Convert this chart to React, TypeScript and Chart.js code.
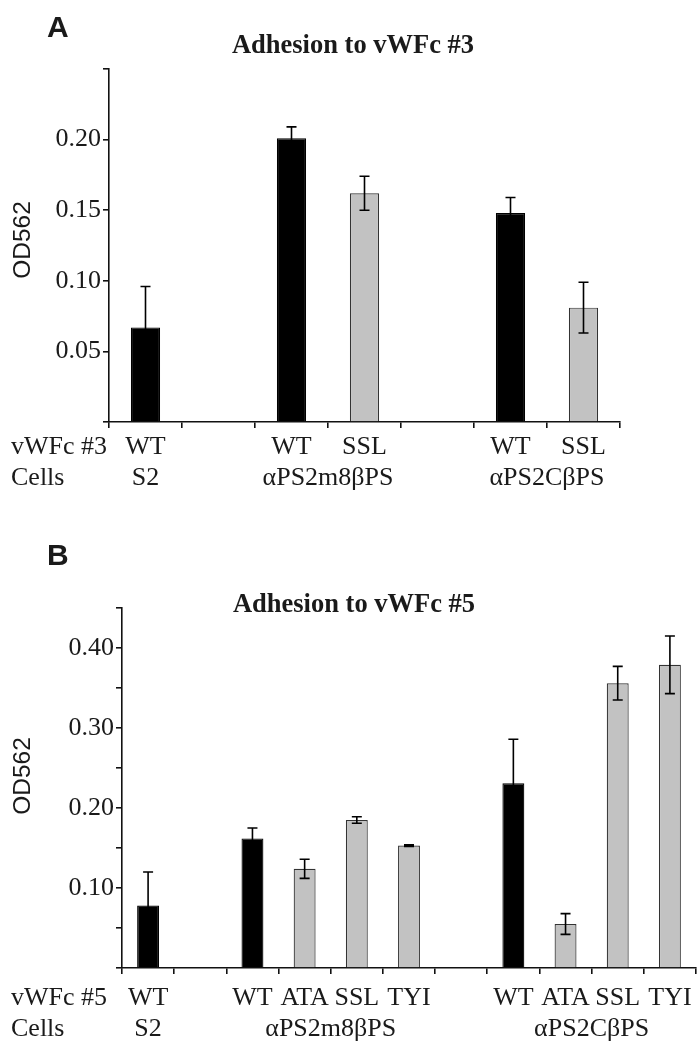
import React, { useEffect, useRef } from 'react';
import { Chart, registerables } from 'chart.js';

Chart.register(...registerables);

const SERIF = "'Liberation Serif', 'Times New Roman', serif";
const SANS = "'Liberation Sans', Arial, sans-serif";
const INK = '#1a1a1a';

// ---------- Panel A data ----------
const A_VARIANTS = ['WT', '', 'WT', 'SSL', '', 'WT', 'SSL'];
const A_MEANS = [0.067, null, 0.201, 0.162, null, 0.148, 0.081];
const A_ERRORS = [0.029, null, 0.008, 0.012, null, 0.011, 0.018];
const A_CELLS = ['S2', 'αPS2m8βPS', 'αPS2CβPS'];
const A_CELL_SPANS = [[0, 0], [2, 3], [5, 6]];
const A_Y_TICKS = [0.05, 0.1, 0.15, 0.2];
const A_Y_LABELS = ['0.05', '0.10', '0.15', '0.20'];

// ---------- Panel B data ----------
const B_VARIANTS = ['WT', '', 'WT', 'ATA', 'SSL', 'TYI', '', 'WT', 'ATA', 'SSL', 'TYI'];
const B_MEANS = [0.078, null, 0.162, 0.124, 0.185, 0.153, null, 0.231, 0.055, 0.356, 0.379];
const B_ERRORS = [0.042, null, 0.013, 0.012, 0.004, 0.001, null, 0.055, 0.013, 0.021, 0.036];
const B_CELLS = ['S2', 'αPS2m8βPS', 'αPS2CβPS'];
const B_CELL_SPANS = [[0, 0], [2, 5], [7, 10]];
const B_Y_TICKS = [0.1, 0.2, 0.3, 0.4];
const B_Y_LABELS = ['0.10', '0.20', '0.30', '0.40'];

type PanelCfg = {
  letter: string;
  title: string;
  rowHeader: string;
  variants: string[];
  means: (number | null)[];
  errors: (number | null)[];
  cells: string[];
  spans: number[][];
  yTicks: number[];
  yLabels: string[];
  yMax: number;
  top: number;
  height: number;
  padTop: number;
  padRight: number;
  left: number;
  xAxisHeight: number;
  barPct: number;
  letterY: number;
  titleX: number;
  titleY: number;
  row1Y: number;
  row2Y: number;
  odY: number;
};

const PANELS: PanelCfg[] = [
  {
    letter: 'A', title: 'Adhesion to vWFc #3', rowHeader: 'vWFc #3',
    variants: A_VARIANTS, means: A_MEANS, errors: A_ERRORS, cells: A_CELLS, spans: A_CELL_SPANS,
    yTicks: A_Y_TICKS, yLabels: A_Y_LABELS, yMax: 0.25,
    top: 0, height: 520, padTop: 69, padRight: 79, left: 109, xAxisHeight: 98, barPct: 0.4,
    letterY: 37, titleX: 353, titleY: 53, row1Y: 454, row2Y: 485, odY: 240,
  },
  {
    letter: 'B', title: 'Adhesion to vWFc #5', rowHeader: 'vWFc #5',
    variants: B_VARIANTS, means: B_MEANS, errors: B_ERRORS, cells: B_CELLS, spans: B_CELL_SPANS,
    yTicks: B_Y_TICKS, yLabels: B_Y_LABELS, yMax: 0.45,
    top: 525, height: 525, padTop: 83, padRight: 3, left: 122, xAxisHeight: 82, barPct: 0.42,
    letterY: 40, titleX: 354, titleY: 87, row1Y: 480, row2Y: 511, odY: 251,
  },
];

function makeChart(canvas: HTMLCanvasElement, cfg: PanelCfg) {
  const errorBars = {
    id: 'errorBars',
    afterDatasetsDraw(chart: any) {
      const { ctx, scales } = chart;
      ctx.save();
      ctx.strokeStyle = '#000';
      ctx.lineWidth = 1.6;
      cfg.means.forEach((m, i) => {
        const e = cfg.errors[i];
        if (m == null || e == null) return;
        const x = scales.x.getPixelForValue(i);
        const yt = scales.y.getPixelForValue(m + e);
        const yb = scales.y.getPixelForValue(m - e);
        ctx.beginPath();
        ctx.moveTo(x, yt);
        ctx.lineTo(x, yb);
        ctx.moveTo(x - 5, yt);
        ctx.lineTo(x + 5, yt);
        ctx.moveTo(x - 5, yb);
        ctx.lineTo(x + 5, yb);
        ctx.stroke();
      });
      ctx.restore();
    },
  };

  const texts = {
    id: 'texts',
    afterDraw(chart: any) {
      const { ctx, scales } = chart;
      ctx.save();
      ctx.fillStyle = INK;
      // panel letter
      ctx.font = `bold 30px ${SANS}`;
      ctx.textAlign = 'left';
      ctx.textBaseline = 'alphabetic';
      ctx.fillText(cfg.letter, 47, cfg.letterY);
      // title
      ctx.font = `bold 26.5px ${SERIF}`;
      ctx.textAlign = 'center';
      ctx.fillText(cfg.title, cfg.titleX, cfg.titleY);
      // row headers
      ctx.font = `26px ${SERIF}`;
      ctx.textAlign = 'left';
      ctx.fillText(cfg.rowHeader, 11, cfg.row1Y);
      ctx.fillText('Cells', 11, cfg.row2Y);
      // variant row
      ctx.textAlign = 'center';
      cfg.variants.forEach((v, i) => {
        if (!v) return;
        ctx.fillText(v, scales.x.getPixelForValue(i), cfg.row1Y);
      });
      // cell row
      cfg.cells.forEach((c, k) => {
        const [a, b] = cfg.spans[k];
        const x = (scales.x.getPixelForValue(a) + scales.x.getPixelForValue(b)) / 2;
        ctx.fillText(c, x, cfg.row2Y);
      });
      // y axis title
      ctx.font = `24.5px ${SANS}`;
      ctx.translate(23, cfg.odY);
      ctx.rotate(-Math.PI / 2);
      ctx.textAlign = 'center';
      ctx.textBaseline = 'middle';
      ctx.fillText('OD562', 0, 0);
      ctx.restore();
    },
  };

  return new Chart(canvas, {
    type: 'bar',
    data: {
      labels: cfg.variants.map((v, i) => v || ' '.repeat(i + 1)),
      datasets: [
        {
          data: cfg.means as any,
          backgroundColor: cfg.variants.map((v) => (v === 'WT' ? '#000' : '#c2c2c2')),
          borderColor: cfg.variants.map((v) => (v === 'WT' ? '#000' : '#333')),
          borderWidth: 1.2,
          barPercentage: cfg.barPct,
          categoryPercentage: 1,
        },
      ],
    },
    options: {
      responsive: false,
      animation: false,
      devicePixelRatio: 1,
      layout: { padding: { top: cfg.padTop, right: cfg.padRight, left: 0, bottom: 0 } },
      plugins: {
        legend: { display: false },
        tooltip: { enabled: false },
        title: { display: false },
      },
      scales: {
        x: {
          type: 'category',
          grid: {
            display: true,
            drawOnChartArea: false,
            drawTicks: true,
            tickLength: 6,
            color: '#111',
            lineWidth: 1.6,
            offset: true,
          },
          border: { display: true, color: '#111', width: 1.6 },
          ticks: { display: false },
          afterFit: (s: any) => {
            s.height = cfg.xAxisHeight;
          },
        },
        y: {
          min: 0,
          max: cfg.yMax,
          grid: {
            display: true,
            drawOnChartArea: false,
            drawTicks: true,
            tickLength: 6,
            color: '#111',
            lineWidth: 1.6,
          },
          border: { display: true, color: '#111', width: 1.6 },
          ticks: {
            stepSize: 0.05,
            autoSkip: false,
            padding: 2,
            color: INK,
            font: { family: SERIF, size: 26 },
            callback: (value: any) => {
              const k = cfg.yTicks.findIndex((t) => Math.abs(t - Number(value)) < 1e-6);
              return k >= 0 ? cfg.yLabels[k] : '';
            },
          },
          afterFit: (s: any) => {
            s.width = cfg.left;
          },
        },
      },
    },
    plugins: [errorBars, texts],
  } as any);
}

function Panel({ cfg }: { cfg: PanelCfg }) {
  const ref = useRef<HTMLCanvasElement>(null);
  useEffect(() => {
    const chart = makeChart(ref.current!, cfg);
    return () => chart.destroy();
  }, [cfg]);
  return (
    <canvas
      ref={ref}
      width={699}
      height={cfg.height}
      style={{ position: 'absolute', left: 0, top: cfg.top, width: 699, height: cfg.height }}
    />
  );
}

export default function App() {
  return (
    <div style={{ position: 'absolute', left: 0, top: 0, width: 699, height: 1050, background: '#fff' }}>
      {PANELS.map((p) => (
        <Panel key={p.letter} cfg={p} />
      ))}
    </div>
  );
}
